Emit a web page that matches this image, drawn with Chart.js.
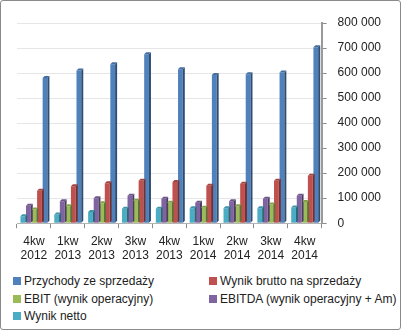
<!DOCTYPE html>
<html>
<head>
<meta charset="utf-8">
<script src="https://cdn.jsdelivr.net/npm/chart.js@4"></script>
<style>
  html, body { margin: 0; padding: 0; background: #fff; }
  #frame {
    position: relative; width: 399px; height: 328px;
    border: 1px solid #8a8a8a; border-radius: 3px; overflow: hidden;
    font-family: "Liberation Sans", Arial, sans-serif; font-size: 12px; color: #222;
  }
  #wrap { position: absolute; left: 0; top: 0; width: 399px; height: 268px; }
  #legend { position: absolute; left: 12px; top: 273px; width: 385px; }
  .item { position: absolute; white-space: nowrap; line-height: 14px; }
  .item i { display: inline-block; width: 8px; height: 8px; margin-right: 3px; vertical-align: 0px; }
</style>
</head>
<body>
<div id="frame">
  <div id="wrap"><canvas id="chart"></canvas></div>
  <div id="legend"></div>
</div>
<script>
/* quarterly results, values */
const QUARTERS = [['4kw', '2012'], ['1kw', '2013'], ['2kw', '2013'], ['3kw', '2013'], ['4kw', '2013'],
                  ['1kw', '2014'], ['2kw', '2014'], ['3kw', '2014'], ['4kw', '2014']];

const PRZYCHODY = [580000, 610000, 635000, 675000, 615000, 592000, 595000, 602000, 703000];
const BRUTTO    = [130000, 148000, 160000, 170000, 165000, 150000, 158000, 170000, 190000];
const EBIT      = [55000, 68000, 80000, 90000, 82000, 62000, 68000, 75000, 85000];
const EBITDA    = [70000, 88000, 100000, 110000, 98000, 82000, 88000, 98000, 110000];
const NETTO     = [28000, 35000, 45000, 58000, 58000, 60000, 60000, 60000, 63000];

const SERIES = [
  { label: 'Przychody ze sprzedaży', data: PRZYCHODY, color: '#4F81BD' },
  { label: 'Wynik brutto na sprzedaży', data: BRUTTO, color: '#C0504D' },
  { label: 'EBIT (wynik operacyjny)', data: EBIT, color: '#9BBB59' },
  { label: 'EBITDA (wynik operacyjny + Am)', data: EBITDA, color: '#8064A2' },
  { label: 'Wynik netto', data: NETTO, color: '#4BACC6' },
];

function shade(hex, f) {
  const n = parseInt(hex.slice(1), 16);
  const r = Math.round(((n >> 16) & 255) * f), g = Math.round(((n >> 8) & 255) * f), b = Math.round((n & 255) * f);
  return `rgb(${r},${g},${b})`;
}

/* fake 3D: side and top faces for each bar */
const bar3d = {
  id: 'bar3d',
  afterDatasetsDraw(chart) {
    const ctx = chart.ctx;
    const d = 2;
    chart.data.datasets.forEach((ds, i) => {
      chart.getDatasetMeta(i).data.forEach(el => {
        const l = el.x - el.width / 2, r = el.x + el.width / 2;
        ctx.save();
        ctx.fillStyle = shade(ds.baseColor, 0.6);
        ctx.beginPath();
        ctx.moveTo(r, el.base); ctx.lineTo(r, el.y); ctx.lineTo(r + d, el.y - d); ctx.lineTo(r + d, el.base - d);
        ctx.closePath(); ctx.fill();
        ctx.fillStyle = shade(ds.baseColor, 0.85);
        ctx.beginPath();
        ctx.moveTo(l, el.y); ctx.lineTo(r, el.y); ctx.lineTo(r + d, el.y - d); ctx.lineTo(l + d, el.y - d);
        ctx.closePath(); ctx.fill();
        ctx.restore();
      });
    });
  },
};

// bars inside a group run from the last series to the first
const datasets = SERIES.slice().reverse().map(s => ({
  label: s.label,
  data: s.data,
  baseColor: s.color,
  backgroundColor: s.color,
  borderWidth: 0,
  categoryPercentage: 0.82,
  barPercentage: 0.86,
}));

new Chart(document.getElementById('chart'), {
  type: 'bar',
  data: { labels: QUARTERS, datasets },
  plugins: [bar3d],
  options: {
    responsive: true,
    maintainAspectRatio: false,
    animation: false,
    layout: { padding: { top: 22, left: 16, right: 8, bottom: 0 } },
    plugins: { legend: { display: false }, tooltip: { enabled: false } },
    scales: {
      x: {
        grid: { display: true, drawOnChartArea: false, offset: true, color: '#8c8c8c', tickLength: 5 },
        border: { display: true, color: '#b4b4b4' },
        ticks: {
          color: '#222', padding: 6, maxRotation: 0, autoSkip: false,
          font: { family: '"Liberation Sans", Arial, sans-serif', size: 12, lineHeight: 1.2 },
        },
      },
      y: {
        position: 'right',
        min: 0, max: 800000,
        grid: { color: '#e6e6e6', tickLength: 5, tickColor: '#8c8c8c' },
        border: { display: true, color: '#9a9a9a', width: 2 },
        ticks: {
          stepSize: 100000, color: '#222', padding: 11,
          font: { family: '"Liberation Sans", Arial, sans-serif', size: 12 },
          callback: v => String(v).replace(/\B(?=(\d{3})+(?!\d))/g, ' '),
        },
      },
    },
  },
});

/* two-column legend as in the original */
const legend = document.getElementById('legend');
SERIES.forEach((s, i) => {
  const el = document.createElement('div');
  el.className = 'item';
  el.style.left = (i % 2 ? 196 : 0) + 'px';
  el.style.top = Math.floor(i / 2) * 17.7 + 'px';
  el.innerHTML = `<i style="background:${s.color}"></i>${s.label}`;
  legend.appendChild(el);
});
</script>
</body>
</html>
